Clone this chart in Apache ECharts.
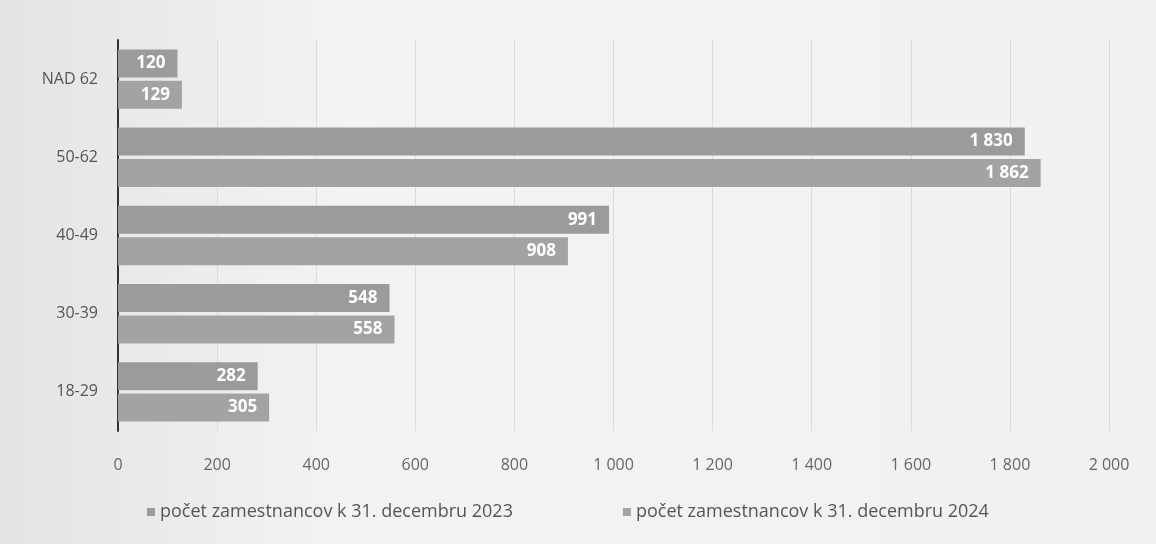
<!DOCTYPE html>
<html><head><meta charset="utf-8">
<script src="https://cdn.jsdelivr.net/npm/echarts@6/dist/echarts.min.js"></script>
<style>html,body{margin:0;padding:0;background:#eee}#c{width:1156px;height:544px}</style>
</head><body><div id="c"></div>
<script>
const categories = ['18-29', '30-39', '40-49', '50-62', 'NAD 62'];
const values2023 = [282, 548, 991, 1830, 120];
const values2024 = [305, 558, 908, 1862, 129];
const seriesNames = ['počet zamestnancov k 31. decembru 2023', 'počet zamestnancov k 31. decembru 2024'];
const xTicks = {min: 0, max: 2000, interval: 200};

function fmt(v){ return String(v).replace(/\B(?=(\d{3})+(?!\d))/g, ' '); }
const font = 'Open Sans';
const chart = echarts.init(document.getElementById('c'));
chart.setOption({
  backgroundColor: {type:'linear', x:0, y:0, x2:1, y2:0, colorStops:[{offset:0,color:'#e4e4e4'},{offset:0.3,color:'#f3f3f3'},{offset:1,color:'#f1f1f1'}]},
  textStyle: {fontFamily: font},
  grid: {left: 118, right: 47, top: 40, bottom: 113},
  legend: {
    top: 498, left: 142, itemWidth: 8, itemHeight: 8, itemGap: 110, icon: 'rect',
    textStyle: {fontSize: 18, color: '#555', fontFamily: font},
    data: seriesNames
  },
  xAxis: {
    type: 'value', min: xTicks.min, max: xTicks.max, interval: xTicks.interval,
    axisLabel: {formatter: fmt, fontSize: 16, color: '#666', margin: 26},
    splitLine: {lineStyle: {color: '#dcdcdc'}},
    axisLine: {show: false}, axisTick: {show: false}
  },
  yAxis: {
    type: 'category', data: categories,
    axisLabel: {fontSize: 16, color: '#555', margin: 20},
    axisLine: {lineStyle: {color: '#333', width: 2}},
    axisTick: {show: false}
  },
  series: [
    {name: seriesNames[0], type: 'bar', data: values2023, barWidth: 28, barGap: '12%',
     itemStyle: {color: '#9b9b9b'},
     label: {show: true, position: 'insideRight', color: '#fff', fontWeight: 'bold', fontSize: 17, formatter: p => fmt(p.value), distance: 12}},
    {name: seriesNames[1], type: 'bar', data: values2024, barWidth: 28,
     itemStyle: {color: '#a3a3a3'},
     label: {show: true, position: 'insideRight', color: '#fff', fontWeight: 'bold', fontSize: 17, formatter: p => fmt(p.value), distance: 12}}
  ]
});
</script></body></html>
